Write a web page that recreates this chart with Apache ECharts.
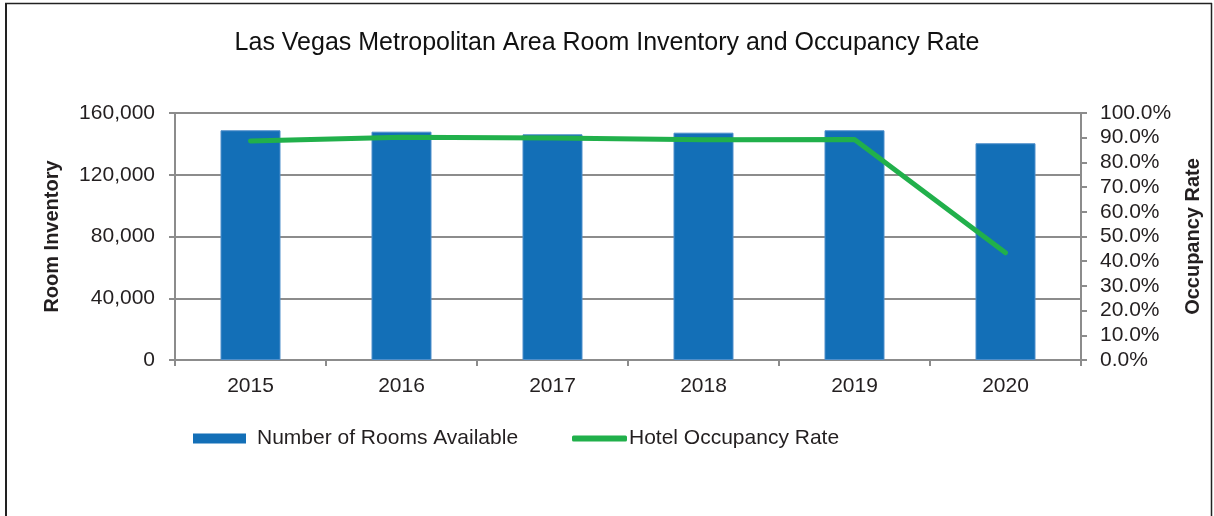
<!DOCTYPE html>
<html>
<head>
<meta charset="utf-8">
<script src="https://cdn.jsdelivr.net/npm/echarts@6/dist/echarts.min.js"></script>
<style>
html,body{margin:0;padding:0;background:#fff;}
#chart{width:1214px;height:516px;}
</style>
</head>
<body>
<div id="chart"></div>
<script>
const years = ['2015', '2016', '2017', '2018', '2019', '2020'];
const roomsAvailable = [148800, 147900, 146200, 147250, 148800, 140400];
const occupancyRate = [88.7, 90.2, 89.9, 89.2, 89.3, 43.4];
const roomTicks = [0, 40000, 80000, 120000, 160000];
const titleText = 'Las Vegas Metropolitan Area Room Inventory and Occupancy Rate';

const FONT = '"Liberation Sans", Arial, sans-serif';
const TXT = '#231f20';
const AX = '#8c8c8c';

const chart = echarts.init(document.getElementById('chart'), null, {renderer: 'canvas'});
chart.setOption({
  animation: false,
  textStyle: {fontFamily: FONT, color: TXT},
  title: {
    text: titleText,
    left: 'center',
    top: 26,
    textStyle: {fontFamily: FONT, fontSize: 25, fontWeight: 'normal', color: '#111'}
  },
  graphic: [
    {type: 'line', shape: {x1: 6, y1: 3, x2: 6, y2: 516}, style: {stroke: '#222', lineWidth: 2}},
    {type: 'line', shape: {x1: 5, y1: 3.5, x2: 1212, y2: 3.5}, style: {stroke: '#222', lineWidth: 1.5}},
    {type: 'line', shape: {x1: 1211.5, y1: 3, x2: 1211.5, y2: 516}, style: {stroke: '#222', lineWidth: 1.5}}
  ],
  legend: [
    {
      left: 188, top: 423,
      itemWidth: 53, itemHeight: 10,
      data: [{name: 'Number of Rooms Available', icon: 'rect'}],
      itemStyle: {borderWidth: 0},
      textStyle: {fontFamily: FONT, fontSize: 21, color: TXT, padding: [0, 0, 0, 6]}
    },
    {
      left: 567, top: 423,
      itemWidth: 55, itemHeight: 6,
      itemGap: 0,
      data: [{name: 'Hotel Occupancy Rate', icon: 'roundRect'}],
      textStyle: {fontFamily: FONT, fontSize: 21, color: TXT, padding: [0, 0, 0, -3]}
    }
  ],
  grid: {left: 175, right: 133, top: 113, bottom: 156},
  xAxis: {
    type: 'category',
    data: years,
    boundaryGap: true,
    axisLine: {show: true, lineStyle: {color: AX, width: 2}},
    axisTick: {show: true, length: 6, lineStyle: {color: AX, width: 2}},
    axisLabel: {fontFamily: FONT, fontSize: 21, color: TXT, margin: 16}
  },
  yAxis: [
    {
      type: 'value',
      min: 0, max: 160000, interval: 40000,
      name: 'Room Inventory',
      nameLocation: 'middle',
      nameRotate: 90,
      nameGap: 113,
      nameTextStyle: {fontFamily: FONT, fontSize: 20, fontWeight: 'bold', color: TXT},
      axisLine: {show: true, lineStyle: {color: AX, width: 2}},
      axisTick: {show: true, length: 6, lineStyle: {color: AX, width: 2}},
      axisLabel: {
        fontFamily: FONT, fontSize: 21, color: TXT, margin: 20,
        formatter: v => roomTicks.indexOf(v) >= 0 ? v.toLocaleString('en-US') : ''
      },
      splitLine: {show: true, lineStyle: {color: AX, width: 2}}
    },
    {
      type: 'value',
      min: 0, max: 100, interval: 10,
      position: 'right',
      name: 'Occupancy Rate',
      nameLocation: 'middle',
      nameRotate: 90,
      nameGap: 102,
      nameTextStyle: {fontFamily: FONT, fontSize: 20, fontWeight: 'bold', color: TXT},
      axisLine: {show: true, lineStyle: {color: AX, width: 2}},
      axisTick: {show: true, length: 6, lineStyle: {color: AX, width: 2}},
      axisLabel: {
        fontFamily: FONT, fontSize: 21, color: TXT, margin: 19,
        formatter: v => v.toFixed(1) + '%'
      },
      splitLine: {show: false}
    }
  ],
  series: [
    {
      name: 'Number of Rooms Available',
      type: 'bar',
      data: roomsAvailable,
      yAxisIndex: 0,
      barWidth: 60,
      itemStyle: {color: '#136FB7', borderColor: '#4F8FCB', borderWidth: 1},
      z: 2
    },
    {
      name: 'Hotel Occupancy Rate',
      type: 'line',
      data: occupancyRate,
      yAxisIndex: 1,
      symbol: 'none',
      showSymbol: false,
      lineStyle: {color: '#21B04B', width: 5, cap: 'round', join: 'round'},
      itemStyle: {color: '#21B04B'},
      z: 3
    }
  ]
});
</script>
</body>
</html>
